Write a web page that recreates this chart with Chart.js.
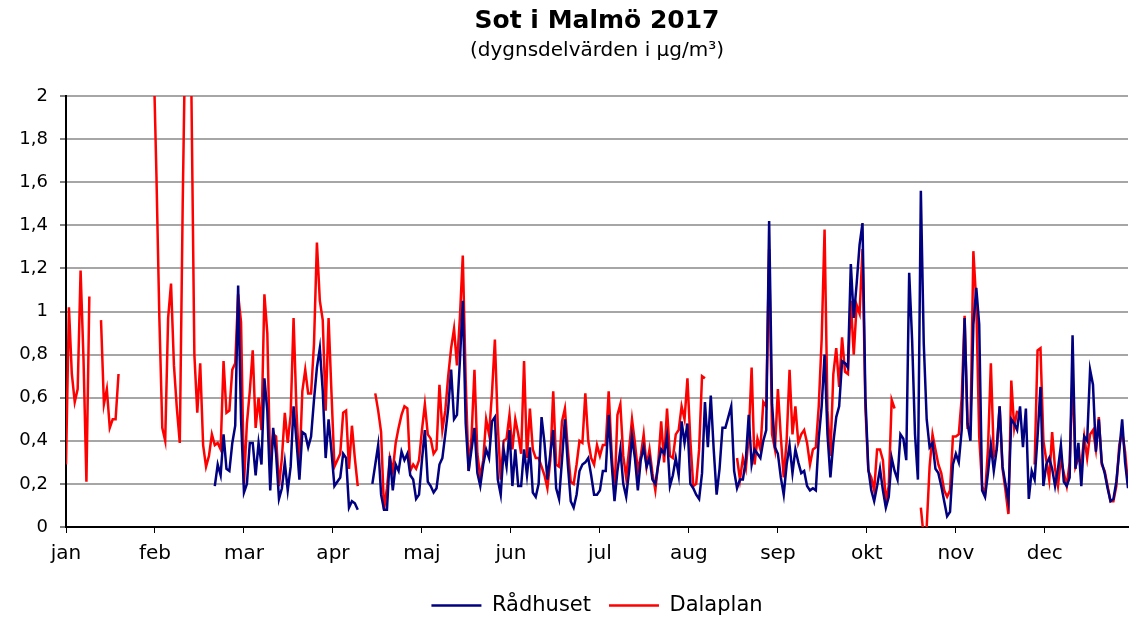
<!DOCTYPE html>
<html>
<head>
<meta charset="utf-8">
<script src="https://cdn.jsdelivr.net/npm/chart.js@4.4.1/dist/chart.umd.min.js"></script>
<style>
html,body{margin:0;padding:0;background:#fff;}
#wrap{width:1129px;height:626px;}
</style>
</head>
<body>
<div id="wrap"><canvas id="c" width="1129" height="626"></canvas></div>
<script>
// Month tick labels
const months = ['jan','feb','mar','apr','maj','jun','jul','aug','sep','okt','nov','dec'];

// Dalaplan (red), daily values 2017 (null = missing)
const dalaplan = [
  // jan
  0.29,1.02,0.71,0.58,0.64,1.19,0.78,0.21,1.07,null,null,null,0.96,0.57,0.64,0.46,0.50,0.50,0.71,null,null,null,null,null,null,null,null,null,null,null,2.2,
  // feb
  1.63,0.97,0.46,0.40,0.97,1.13,0.75,0.55,0.39,1.5,2.4,2.5,2.0,0.8,0.53,0.76,0.38,0.28,0.33,0.43,0.38,0.39,0.36,0.77,0.53,0.54,0.73,0.76,
  // mar
  1.08,0.95,0.20,0.48,0.63,0.82,0.46,0.60,0.45,1.08,0.90,0.27,0.43,0.42,0.19,0.32,0.53,0.39,0.52,0.97,0.54,0.26,0.63,0.73,0.62,0.62,0.85,1.32,1.05,0.96,0.54,
  // apr
  0.97,0.62,0.28,0.31,0.34,0.53,0.54,0.27,0.47,0.32,0.19,null,null,null,null,null,0.62,0.54,0.44,0.08,0.18,0.32,0.26,0.39,0.46,0.52,0.56,0.55,0.26,0.29,
  // maj
  0.27,0.31,0.45,0.57,0.43,0.41,0.34,0.36,0.66,0.45,0.54,0.70,0.83,0.92,0.75,0.97,1.26,0.68,0.26,0.42,0.73,0.34,0.23,0.31,0.50,0.43,0.62,0.87,0.47,0.22,0.40,
  // jun
  0.41,0.52,0.36,0.50,0.43,0.34,0.77,0.32,0.55,0.36,0.32,0.32,0.28,0.24,0.18,0.31,0.63,0.29,0.28,0.49,0.55,0.36,0.21,0.20,0.29,0.40,0.39,0.62,0.40,0.32,
  // jul
  0.29,0.38,0.33,0.38,0.38,0.63,0.35,0.15,0.52,0.57,0.33,0.23,0.36,0.50,0.39,0.26,0.33,0.43,0.28,0.36,0.25,0.17,0.30,0.49,0.30,0.55,0.33,0.32,0.43,0.45,0.56,
  // aug
  0.50,0.69,0.40,0.19,0.20,0.36,0.70,0.69,null,null,null,null,null,null,null,null,null,null,0.32,0.22,0.32,0.27,0.42,0.74,0.29,0.41,0.36,0.58,0.56,1.29,0.43,
  // sep
  0.36,0.64,0.42,0.23,0.40,0.73,0.43,0.56,0.39,0.43,0.45,0.39,0.29,0.36,0.37,0.56,0.87,1.38,0.54,0.33,0.71,0.83,0.65,0.88,0.72,0.71,1.05,0.80,1.03,0.99,
  // okt
  1.29,0.55,0.26,0.23,0.17,0.36,0.36,0.31,0.12,0.19,0.59,0.55,null,null,null,null,null,null,null,null,0.09,-0.05,0.0,0.28,0.43,0.36,0.29,0.25,0.17,0.14,0.17,
  // nov
  0.42,0.42,0.43,0.60,0.98,0.46,0.46,1.28,1.04,0.42,0.19,0.15,0.36,0.76,0.33,0.36,0.56,0.27,0.17,0.06,0.68,0.46,0.54,null,null,null,null,null,0.29,0.82,
  // dec
  0.83,0.40,0.31,0.22,0.44,0.27,0.19,0.32,0.25,0.19,0.30,0.70,0.28,0.32,0.29,0.42,0.32,0.43,0.45,0.36,0.51,0.29,0.26,0.19,0.12,0.12,0.19,0.38,0.44,0.35,0.20
];

// Rådhuset (navy), daily values 2017 (null = missing)
const radhuset = [
  // jan
  null,null,null,null,null,null,null,null,null,null,null,null,null,null,null,null,null,null,null,null,null,null,null,null,null,null,null,null,null,null,null,
  // feb
  null,null,null,null,null,null,null,null,null,null,null,null,null,null,null,null,null,null,null,null,0.19,0.29,0.24,0.43,0.27,0.26,0.39,0.47,
  // mar
  1.12,0.50,0.16,0.20,0.39,0.39,0.24,0.39,0.29,0.69,0.54,0.17,0.46,0.34,0.13,0.18,0.30,0.17,0.28,0.56,0.40,0.22,0.44,0.43,0.37,0.42,0.59,0.74,0.83,0.63,0.32,
  // apr
  0.50,0.35,0.19,0.21,0.23,0.34,0.32,0.09,0.12,0.11,0.08,null,null,null,null,0.20,0.29,0.38,0.15,0.08,0.08,0.33,0.17,0.29,0.26,0.35,0.31,0.34,0.24,0.22,
  // maj
  0.13,0.15,0.31,0.45,0.21,0.19,0.16,0.18,0.29,0.32,0.43,0.55,0.73,0.50,0.52,0.77,1.05,0.48,0.26,0.36,0.46,0.25,0.19,0.29,0.36,0.32,0.49,0.51,0.22,0.15,0.36,
  // jun
  0.28,0.45,0.19,0.36,0.19,0.19,0.36,0.24,0.37,0.16,0.14,0.20,0.51,0.39,0.22,0.34,0.45,0.18,0.13,0.31,0.50,0.29,0.12,0.09,0.15,0.26,0.29,0.30,0.32,0.24,
  // jul
  0.15,0.15,0.17,0.26,0.26,0.52,0.30,0.12,0.26,0.36,0.20,0.14,0.26,0.42,0.32,0.17,0.31,0.37,0.28,0.32,0.22,0.20,0.29,0.36,0.34,0.42,0.19,0.24,0.32,0.24,0.49,
  // aug
  0.39,0.48,0.20,0.18,0.15,0.13,0.25,0.58,0.37,0.61,0.36,0.15,0.27,0.46,0.46,0.51,0.56,0.26,0.18,0.22,0.22,0.31,0.52,0.29,0.36,0.34,0.32,0.40,0.45,1.42,0.57,
  // sep
  0.37,0.34,0.23,0.15,0.29,0.38,0.25,0.36,0.30,0.25,0.26,0.19,0.17,0.18,0.17,0.41,0.56,0.80,0.43,0.23,0.39,0.51,0.56,0.77,0.76,0.74,1.22,0.97,1.13,1.31,
  // okt
  1.41,0.60,0.27,0.17,0.12,0.19,0.27,0.17,0.09,0.14,0.32,0.26,0.22,0.43,0.41,0.31,1.18,0.87,0.43,0.22,1.56,0.85,0.50,0.37,0.39,0.27,0.25,0.19,0.12,0.05,0.07,
  // nov
  0.29,0.34,0.30,0.45,0.97,0.48,0.40,0.94,1.11,0.94,0.17,0.14,0.25,0.38,0.26,0.36,0.56,0.28,0.20,0.12,0.50,0.48,0.45,0.56,0.37,0.55,0.13,0.26,0.22,0.42,
  // dec
  0.65,0.19,0.29,0.32,0.27,0.19,0.27,0.38,0.21,0.19,0.23,0.89,0.27,0.39,0.19,0.42,0.40,0.73,0.66,0.35,0.50,0.30,0.25,0.18,0.12,0.13,0.21,0.35,0.50,0.30,0.18
];

const FONT = "'DejaVu Sans', Verdana, sans-serif";
const toXY = arr => arr.map((v, i) => ({x: i, y: v}));

new Chart(document.getElementById('c'), {
  type: 'line',
  data: {
    datasets: [
      {label: 'Rådhuset', data: toXY(radhuset), borderColor: '#000080', backgroundColor: '#000080', borderWidth: 2.5, pointRadius: 0, tension: 0, spanGaps: false},
      {label: 'Dalaplan', data: toXY(dalaplan), borderColor: '#ff0000', backgroundColor: '#ff0000', borderWidth: 2.5, pointRadius: 0, tension: 0, spanGaps: false}
    ]
  },
  options: {
    responsive: false,
    devicePixelRatio: 1,
    animation: false,
    layout: {padding: {left: 0, right: 1, top: 0, bottom: 0}},
    plugins: {
      title: {display: true, text: 'Sot i Malmö 2017', fullSize: false, color: '#000',
        font: {family: FONT, size: 25, weight: 'bold'}, padding: {top: 6, bottom: 3}},
      subtitle: {display: true, text: '(dygnsdelvärden i µg/m³)', fullSize: false, color: '#000',
        font: {family: FONT, size: 20}, padding: {top: 0, bottom: 33}},
      legend: {position: 'bottom', fullSize: false,
        labels: {usePointStyle: true, pointStyle: 'line', pointStyleWidth: 50, color: '#000',
          font: {family: FONT, size: 21}, padding: 18}},
      tooltip: {enabled: false}
    },
    scales: {
      x: {
        type: 'linear', min: 0, max: 364,
        afterBuildTicks: s => { s.ticks = months.map((m, i) => ({value: i * 30.5})); },
        afterFit: s => { s.height = 50; },
        ticks: {callback: (v, i) => months[i], autoSkip: false, maxRotation: 0, color: '#000',
          font: {family: FONT, size: 20}, padding: 9},
        grid: {display: true, drawOnChartArea: false, drawTicks: true, tickLength: 6, color: '#000', lineWidth: 1},
        border: {color: '#000', width: 2}
      },
      y: {
        min: 0, max: 2,
        afterFit: s => { s.width = 66; },
        ticks: {stepSize: 0.2, color: '#000', font: {family: FONT, size: 18}, padding: 12,
          callback: v => String(Number(v.toFixed(1))).replace('.', ',')},
        grid: {color: '#a6a6a6', lineWidth: 2, tickColor: '#000', tickLength: 6, tickWidth: 1},
        border: {color: '#000', width: 2}
      }
    }
  }
});
</script>
</body>
</html>
